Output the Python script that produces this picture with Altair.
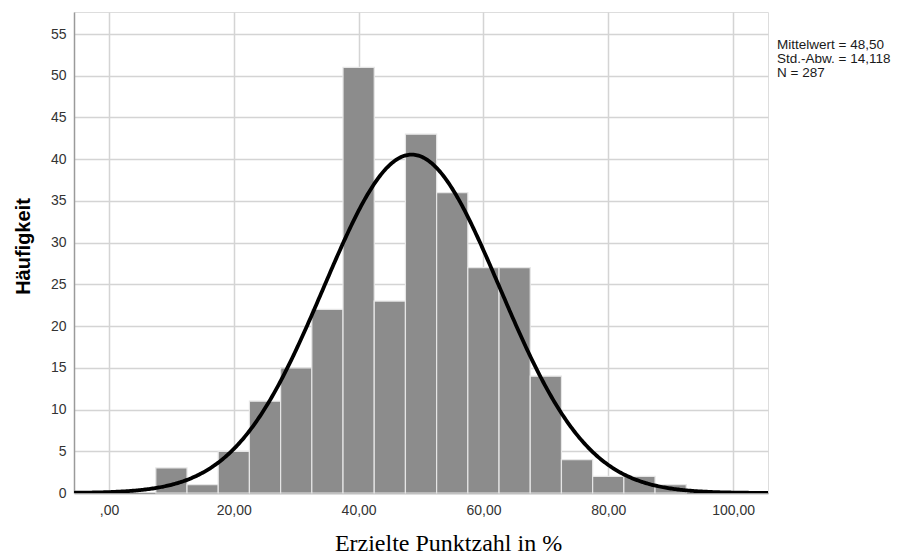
import altair as alt
import pandas as pd

# Histogram bins (centres, width 5) and counts
bin_centers = [10, 15, 20, 25, 30, 35, 40, 45, 50, 55, 60, 65, 70, 75, 80, 85, 90]
counts = [3, 1, 5, 11, 15, 22, 51, 23, 43, 36, 27, 27, 14, 4, 2, 2, 1]
BIN_WIDTH = 5

MEAN = 48.50
SD = 14.118
N = 287

x_ticks = [0, 20, 40, 60, 80, 100]
y_ticks = list(range(0, 60, 5))
stats_lines = ["Mittelwert = 48,50", "Std.-Abw. = 14,118", "N = 287"]

df = pd.DataFrame({
    "start": [c - BIN_WIDTH / 2 for c in bin_centers],
    "end": [c + BIN_WIDTH / 2 for c in bin_centers],
    "count": counts,
})

X_DOM = [-5.61, 105.6]
Y_DOM = [0, 57.64]

xscale = alt.Scale(domain=X_DOM, nice=False, zero=False)
yscale = alt.Scale(domain=Y_DOM, nice=False)

label_expr = "datum.value == 0 ? ',00' : replace(format(datum.value, '.2f'), '.', ',')"

bars = alt.Chart(df).mark_bar(
    color="#8c8c8c", stroke="#e6e6e6", strokeWidth=1.2
).encode(
    x=alt.X("start:Q", scale=xscale,
            axis=alt.Axis(values=x_ticks, labelExpr=label_expr,
                          title="Erzielte Punktzahl in %",
                          titleFont="Liberation Serif", titleFontSize=24,
                          titleFontWeight="normal", titleColor="#000000",
                          titleX=374, titleY=57, titleBaseline="alphabetic",
                          labelPadding=10, labelFontSize=14,
                          labelFont="Liberation Sans", labelColor="#333333",
                          ticks=False, domainColor="#9a9a9a", domainWidth=1.5,
                          gridColor="#d4d4d4", gridWidth=1.5)),
    x2="end:Q",
    y=alt.Y("count:Q", scale=yscale,
            axis=alt.Axis(values=y_ticks, title="Häufigkeit",
                          titleFont="Liberation Sans", titleFontSize=20,
                          titleFontWeight="bold", titleColor="#000000",
                          titleX=-51, titleY=234, titleBaseline="middle",
                          labelPadding=8, labelFontSize=14,
                          labelFont="Liberation Sans", labelColor="#333333",
                          ticks=False, domainColor="#9a9a9a", domainWidth=1.5,
                          gridColor="#d4d4d4", gridWidth=1.5)),
    y2=alt.datum(0),
)

curve = alt.Chart(alt.sequence(-5.6, 105.61, 0.2, as_="xv")).transform_calculate(
    yv=f"{N}*{BIN_WIDTH}/({SD}*sqrt(2*PI))*exp(-0.5*pow((datum.xv-{MEAN})/{SD},2))"
).mark_line(color="#000000", strokeWidth=3.8, clip=True).encode(
    x=alt.X("xv:Q", scale=xscale),
    y=alt.Y("yv:Q", scale=yscale),
)

texts = []
for i, s in enumerate(stats_lines):
    texts.append(
        alt.Chart(pd.DataFrame({"line": [s]})).mark_text(
            align="left", baseline="middle", font="Liberation Sans", fontSize=13.5,
            color="#1a1a1a"
        ).encode(x=alt.value(703), y=alt.value(33 + 14 * i), text="line:N")
    )

chart = alt.layer(bars, curve, *texts).properties(
    width=694, height=481,
    padding={"left": 74, "top": 12, "right": 138, "bottom": 64},
    autosize=alt.AutoSizeParams(type="none"),
).configure_view(stroke=None).configure(background="white")

chart.save("out.html", embed_options={"renderer": "svg", "actions": False})
